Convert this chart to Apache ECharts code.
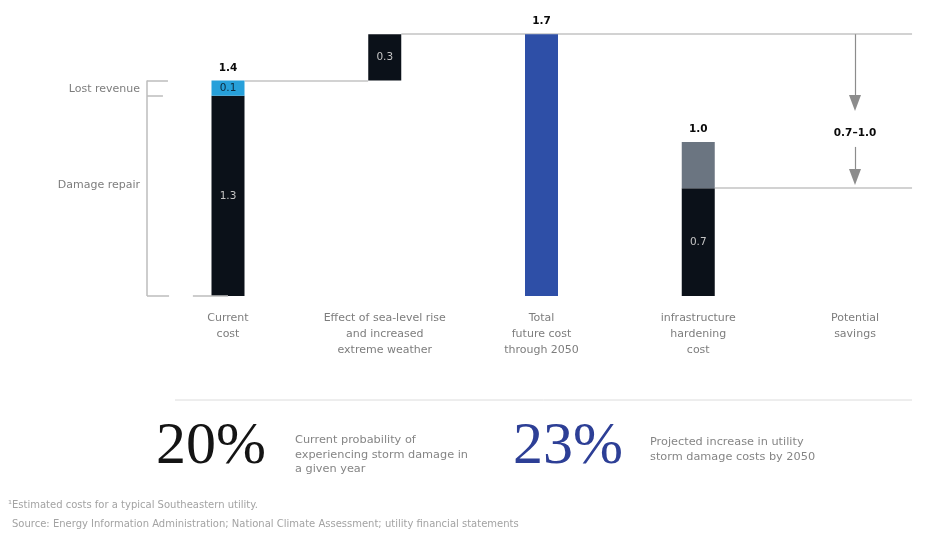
<!DOCTYPE html>
<html>
<head>
<meta charset="utf-8">
<script src="https://cdn.jsdelivr.net/npm/echarts@6/dist/echarts.min.js"></script>
<style>
  html, body { margin: 0; padding: 0; background: #fff; }
  #chart { width: 926px; height: 539px; }
</style>
</head>
<body>
<div id="chart"></div>
<script>
// categories along the bottom
const categories = [
  'Current\ncost',
  'Effect of sea-level rise\nand increased\nextreme weather',
  'Total\nfuture cost\nthrough 2050',
  'infrastructure\nhardening\ncost',
  'Potential\nsavings'
];
// waterfall pieces, $ per year (estimated)
const offsetVals   = [0, 1.4, 0, 0, 0];          // where each column starts
const repairVals   = [1.3, 0.3, null, 0.7, null]; // dark pieces
const revenueVals  = [0.1, null, null, null, null];
const totalVals    = [null, null, 1.7, null, null];
const hardenVals   = [null, null, null, 0.3, null];
const topLabels    = [1.4, null, 1.7, 1.0, null];
const savingsRange = [0.7, 1.0];

const FONT = 'DejaVu Sans';
const BAR_W = 33;
const halfBar = 0.106; // half bar width in x-axis units

const pieces = [
  { name: 'Damage repair', vals: repairVals, color: '#0b1119', text: '#c4c4c4' },
  { name: 'Lost revenue', vals: revenueVals, color: '#27a0da', text: '#0c2a3c' },
  { name: 'Total', vals: totalVals, color: '#2e4fa7', text: null },
  { name: 'Hardening', vals: hardenVals, color: '#6b7581', text: null }
];

// stack the pieces column by column
const running = offsetVals.slice();
const pieceSeries = pieces.map(pc => {
  const data = [];
  pc.vals.forEach((v, i) => {
    if (v == null) return;
    data.push([i, running[i], running[i] + v, v]);
    running[i] += v;
  });
  return {
    name: pc.name, type: 'custom', z: 2,
    encode: { x: 0, y: [1, 2] },
    data: data,
    renderItem: (params, api) => {
      const x = api.value(0);
      const p0 = api.coord([x, api.value(1)]);
      const p1 = api.coord([x, api.value(2)]);
      const el = {
        type: 'rect',
        shape: { x: p0[0] - BAR_W / 2, y: p1[1], width: BAR_W, height: p0[1] - p1[1] },
        style: { fill: pc.color }
      };
      if (pc.text) {
        el.textContent = {
          style: { text: api.value(3).toFixed(1), fill: pc.text, fontSize: 10.5, fontFamily: FONT }
        };
        el.textConfig = { position: 'inside' };
      }
      return el;
    }
  };
});

function pts(arr) {
  return arr.map((v, i) => [i, v == null ? '-' : v]);
}

const chart = echarts.init(document.getElementById('chart'));

const option = {
  animation: false,
  backgroundColor: '#fff',
  textStyle: { fontFamily: FONT },
  grid: { left: 71.25, right: 8.3, top: 18.8, bottom: 243, outerBoundsMode: 'none' },
  xAxis: {
    type: 'value', min: -1, max: 4.4, interval: 1,
    axisLine: { show: false }, axisTick: { show: false }, splitLine: { show: false },
    axisLabel: {
      formatter: v => categories[v] || '',
      color: '#7d7d7d', fontSize: 11, lineHeight: 16, margin: 14, fontFamily: FONT,
      verticalAlign: 'top'
    }
  },
  yAxis: { type: 'value', min: 0, max: 1.8, show: false },
  series: pieceSeries.concat([
    {
      name: 'connectors', type: 'scatter', symbolSize: 0, silent: true,
      data: [[0, 0]],
      markLine: {
        silent: true, z: 1, symbol: ['none', 'none'],
        label: { show: false },
        lineStyle: { color: '#d2d2d2', width: 2, type: 'solid' },
        data: [
          [{ coord: [0 + halfBar, topLabels[0]] }, { coord: [1 - halfBar, topLabels[0]] }],
          [{ coord: [1 + halfBar, topLabels[2]] }, { coord: [4.364, topLabels[2]] }],
          [{ coord: [3 + halfBar, savingsRange[0]] }, { coord: [4.364, savingsRange[0]] }]
        ]
      }
    },
    {
      name: 'totals', type: 'scatter', symbolSize: 0, silent: true,
      itemStyle: { opacity: 1 },
      label: {
        show: true, position: 'top', distance: 7, color: '#0a0a0a',
        fontWeight: 'bold', fontSize: 10.5, formatter: p => p.value[1].toFixed(1)
      },
      data: pts(topLabels),
      markLine: {
        silent: true, symbol: ['none', 'triangle'], symbolSize: [12, 16],
        label: { show: false },
        lineStyle: { color: '#8c8c8c', width: 1.2, type: 'solid' },
        itemStyle: { color: '#8c8c8c' },
        data: [
          [{ coord: [4, topLabels[2]] }, { coord: [4, 1.253] }],
          [{ coord: [4, 0.968] }, { coord: [4, 0.773] }]
        ]
      },
      markPoint: {
        silent: true, symbol: 'circle', symbolSize: 0,
        label: {
          show: true, position: 'inside', color: '#0a0a0a', fontWeight: 'bold', fontSize: 10.5,
          formatter: savingsRange[0].toFixed(1) + '\u2013' + savingsRange[1].toFixed(1)
        },
        data: [{ coord: [4, 1.058] }]
      }
    },
    {
      name: 'bracket', type: 'scatter', symbolSize: 0, silent: true,
      data: [[-0.517, 0]],
      markLine: {
        silent: true, symbol: ['none', 'none'],
        label: { show: false },
        lineStyle: { color: '#bdbdbd', width: 1.5, type: 'solid' },
        data: [
          [{ coord: [-0.517, topLabels[0]] }, { coord: [-0.517, 0] }],
          [{ coord: [-0.517, topLabels[0]] }, { coord: [-0.383, topLabels[0]] }],
          [{ coord: [-0.517, repairVals[0]] }, { coord: [-0.415, repairVals[0]] }],
          [{ coord: [-0.517, 0] }, { coord: [-0.376, 0] }],
          [{ coord: [-0.224, 0] }, { coord: [0, 0] }]
        ]
      },
      markPoint: {
        silent: true, symbol: 'circle', symbolSize: 0,
        label: {
          show: true, position: 'left', distance: 0, color: '#7d7d7d', fontSize: 11,
          formatter: p => p.name
        },
        data: [
          { name: 'Lost revenue', coord: [-0.561, 1.34] },
          { name: 'Damage repair', coord: [-0.561, 0.72] }
        ]
      }
    }
  ]),
  graphic: [
    { type: 'line', silent: true, shape: { x1: 175, y1: 400, x2: 912, y2: 400 },
      style: { stroke: '#dcdcdc', lineWidth: 1 } },
    { type: 'text', silent: true, x: 156, y: 447,
      style: { text: '20%', font: '60px "Liberation Serif"', fill: '#141414', textVerticalAlign: 'middle' } },
    { type: 'text', silent: true, x: 295, y: 433,
      style: { text: 'Current probability of\nexperiencing storm damage in\na given year',
        font: '11.3px "' + FONT + '"', lineHeight: 14.5, fill: '#858585', textVerticalAlign: 'top' } },
    { type: 'text', silent: true, x: 513, y: 447,
      style: { text: '23%', font: '60px "Liberation Serif"', fill: '#2d3f96', textVerticalAlign: 'middle' } },
    { type: 'text', silent: true, x: 650, y: 435,
      style: { text: 'Projected increase in utility\nstorm damage costs by 2050',
        font: '11.3px "' + FONT + '"', lineHeight: 14.5, fill: '#858585', textVerticalAlign: 'top' } },
    { type: 'text', silent: true, x: 8, y: 505,
      style: { text: '\u00b9Estimated costs for a typical Southeastern utility.',
        font: '10px "' + FONT + '"', fill: '#a3a3a3', textVerticalAlign: 'middle' } },
    { type: 'text', silent: true, x: 12, y: 524,
      style: { text: 'Source: Energy Information Administration; National Climate Assessment; utility financial statements',
        font: '10px "' + FONT + '"', fill: '#a3a3a3', textVerticalAlign: 'middle' } }
  ]
};

chart.setOption(option);
</script>
</body>
</html>
